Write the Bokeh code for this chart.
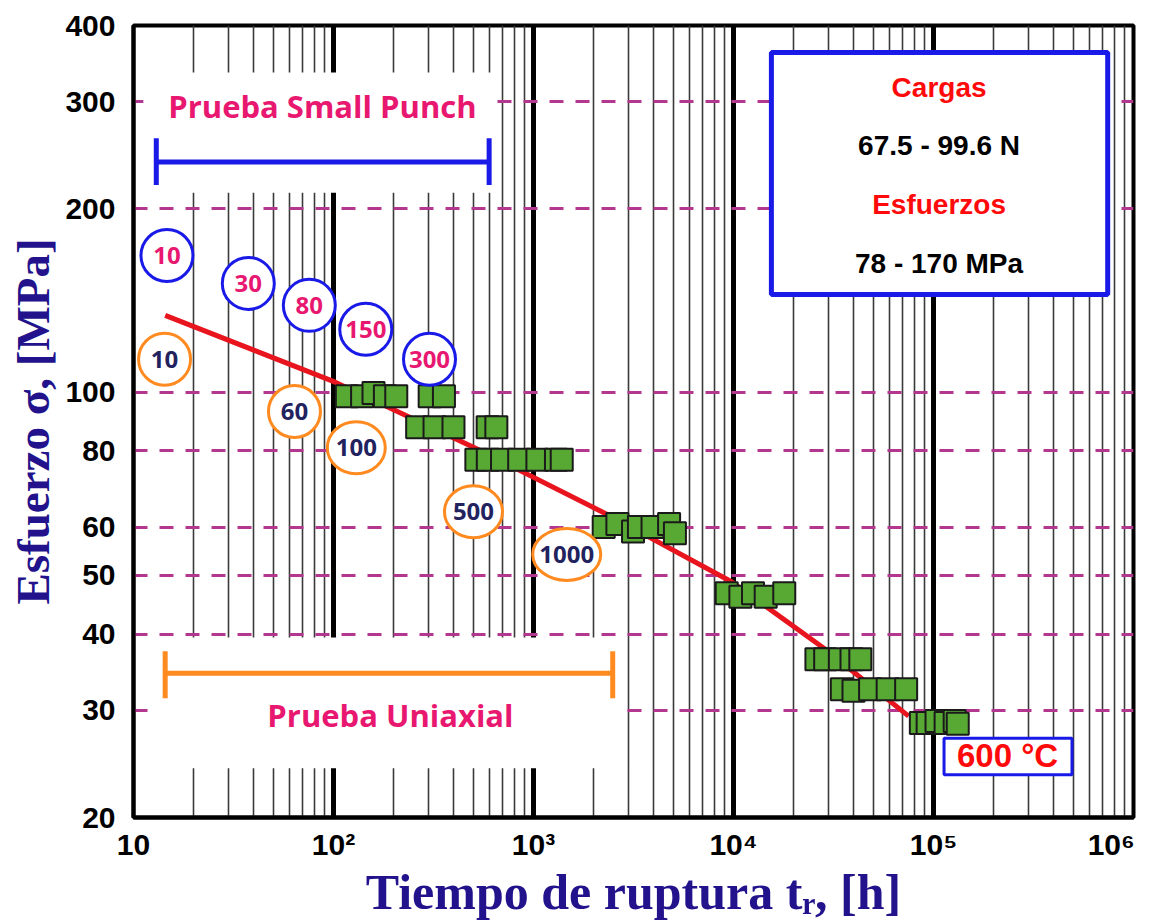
from bokeh.plotting import figure
from bokeh.models import FixedTicker, Title
from bokeh.core.properties import value
from bokeh.embed import file_html
from bokeh.resources import INLINE

# ---------------- data ----------------
# uniaxial creep tests (green squares): rupture time [h], stress [MPa]
sq_t = [116.6, 139, 158.5, 180.7, 206, 302.6, 356.6,
        262, 320, 398, 590, 652,
        518, 591, 696, 848, 1046, 1295, 1384,
        2244, 2627, 3145, 3366, 3937, 4764, 5095,
        9247, 10824, 12519, 14488, 17940,
        25977, 28733, 34015, 38905, 43066,
        34794, 39811, 48190, 59000, 72985,
        86440, 93474, 103550, 114970, 127600, 132200]
sq_s = [98.4, 98.4, 99.6, 98.4, 98.4, 98.4, 98.4,
        87.5, 87.5, 87.5, 87.5, 87.5,
        77.4, 77.4, 77.4, 77.4, 77.4, 77.4, 77.4,
        60.0, 60.7, 59.0, 60.0, 60.0, 60.7, 58.6,
        46.7, 46.1, 46.7, 46.1, 46.7,
        36.4, 36.4, 36.4, 36.4, 36.4,
        32.5, 32.3, 32.5, 32.5, 32.5,
        28.6, 28.6, 28.8, 28.6, 28.8, 28.5]

# fitted master curve (red)
fit_t = [14.4, 102, 507, 2323, 9770, 28430, 75100]
fit_s = [133.6, 103.8, 81, 63, 48.8, 37.9, 29.35]

# Small Punch test durations (blue circles)
sp_labels = ["10", "30", "80", "150", "300"]
sp_t = [14.7, 37.5, 75.7, 145, 302]
sp_s = [167.6, 150.8, 138.8, 126.8, 113.2]

# uniaxial test durations (orange circles)
ua_labels = ["10", "60", "100", "500", "1000"]
ua_t = [14.3, 63.8, 130, 501, 1466]
ua_s = [113.2, 92.9, 81, 63.6, 54.1]

# ranges covered by the two test types
sp_range_t = [13.0, 600]
sp_range_s = 238.7
sp_cap_s = [218.8, 261]
ua_range_t = [14.4, 2489]
ua_range_s = 34.5
ua_cap_s = [31.4, 37.5]

x_ticks = [10, 100, 1000, 10000, 100000, 1000000]
x_tick_labels = ["10", "10²", "10³", "10⁴", "10⁵", "10⁶"]
y_ticks = [20, 30, 40, 50, 60, 80, 100, 200, 300, 400]
y_grid_values = [30, 40, 50, 60, 80, 100, 200, 300]
heavy_x = [100, 1000, 10000, 100000]
minor_x = [m * 10 ** e for e in range(1, 6) for m in range(2, 10)]

box_lines = ["Cargas", "67.5 - 99.6 N", "Esfuerzos", "78 - 170 MPa"]
box_colors = ["#ff0a0a", "#000000", "#ff0a0a", "#000000"]

# ---------------- colours ----------------
BLUE = "#1a1ae8"
ORANGE = "#ff8a1f"
PINK = "#e8176f"
NAVY = "#22225e"
TITLE = "#22128c"

p = figure(width=1151, height=922, x_axis_type="log", y_axis_type="log",
           x_range=(10, 1e6), y_range=(20, 400),
           output_backend="svg", toolbar_location=None,
           min_border_left=125, min_border_right=18,
           min_border_top=25, min_border_bottom=102,
           background_fill_color="white", border_fill_color="white")

# axes
for ax in (p.xaxis[0], p.yaxis[0]):
    ax.axis_line_width = 4
    ax.axis_line_color = "black"
    ax.major_tick_line_color = None
    ax.minor_tick_line_color = None
    ax.major_label_text_font = "Liberation Sans"
    ax.major_label_text_font_style = "bold"
    ax.major_label_text_font_size = "30px"
    ax.major_label_text_color = "black"

p.xaxis.ticker = FixedTicker(ticks=x_ticks)
ov = {t: l for t, l in zip(x_ticks, x_tick_labels)}
ov[x_ticks[-1]] = x_tick_labels[-1] + "\u2007"
p.xaxis.major_label_overrides = ov
p.xaxis.major_label_standoff = 4

p.yaxis.ticker = FixedTicker(ticks=y_ticks)
p.yaxis.major_label_overrides = {v: str(v) for v in y_ticks}
p.yaxis.major_label_standoff = 12

p.xaxis.axis_label = "Tiempo de ruptura tᵣ, [h]"
p.xaxis.axis_label_text_font = "Liberation Serif"
p.xaxis.axis_label_text_font_style = "bold"
p.xaxis.axis_label_text_font_size = "50px"
p.xaxis.axis_label_text_color = TITLE
p.xaxis.axis_label_standoff = 0

p.add_layout(Title(text="Esfuerzo σ, [MPa]", align="center", standoff=8,
                   text_font="Liberation Serif", text_font_style="bold",
                   text_font_size="47px", text_color=TITLE), "left")

p.outline_line_color = "black"
p.outline_line_width = 4

# grid
p.xgrid.ticker = FixedTicker(ticks=heavy_x, minor_ticks=minor_x)
p.xgrid.grid_line_color = "black"
p.xgrid.grid_line_width = 5
p.xgrid.minor_grid_line_color = "#3a3a3a"
p.xgrid.minor_grid_line_width = 1.6
p.ygrid.ticker = FixedTicker(ticks=y_grid_values)
p.ygrid.grid_line_color = "#b4378f"
p.ygrid.grid_line_width = 3
p.ygrid.grid_line_dash = "14 12"

# white panels that hide the grid behind the annotations
p.quad(left=[11.2, 13.3], right=[646, 2851], bottom=[212.4, 24.1], top=[335, 39.5],
       fill_color="white", line_color=None)

# info box
p.quad(left=15470, right=743000, bottom=144.6, top=361.3,
       fill_color="white", line_color=BLUE, line_width=5)
p.text(x=[106600] * 4, y=[316.6, 253.6, 203, 162.5], text=box_lines,
       text_color=box_colors, text_align="center", text_baseline="middle",
       text_font=value("Liberation Sans"), text_font_style="bold", text_font_size="28px")

# temperature box
p.quad(left=112900, right=492600, bottom=23.5, top=27.0,
       fill_color="white", line_color=BLUE, line_width=3)
p.text(x=[234600], y=[25.3], text=["600 °C"], text_color="#ff0a0a",
       text_align="center", text_baseline="middle",
       text_font=value("Liberation Sans"), text_font_style="bold", text_font_size="33px")

# fitted curve and data
p.line(fit_t, fit_s, line_color="#e8141e", line_width=5)
p.scatter(sq_t, sq_s, marker="square", size=22, fill_color="#58a934",
          line_color="#1a1a1a", line_width=2)

# range bars
p.segment(x0=[sp_range_t[0]], y0=[sp_range_s], x1=[sp_range_t[1]], y1=[sp_range_s],
          line_color=BLUE, line_width=5)
p.segment(x0=sp_range_t, y0=[sp_cap_s[0]] * 2, x1=sp_range_t, y1=[sp_cap_s[1]] * 2,
          line_color=BLUE, line_width=5)
p.segment(x0=[ua_range_t[0]], y0=[ua_range_s], x1=[ua_range_t[1]], y1=[ua_range_s],
          line_color=ORANGE, line_width=5)
p.segment(x0=ua_range_t, y0=[ua_cap_s[0]] * 2, x1=ua_range_t, y1=[ua_cap_s[1]] * 2,
          line_color=ORANGE, line_width=5)

p.text(x=[88], y=[295], text=["Prueba Small Punch"], text_color=PINK,
       text_align="center", text_baseline="middle",
       text_font=value("Open Sans"), text_font_style="bold", text_font_size="31px")
p.text(x=[192.6], y=[29.5], text=["Prueba Uniaxial"], text_color=PINK,
       text_align="center", text_baseline="middle",
       text_font=value("Open Sans"), text_font_style="bold", text_font_size="31px")

# circles with test durations
p.ellipse(x=sp_t, y=sp_s, width=52, height=52, width_units="screen", height_units="screen",
          fill_color="white", line_color=BLUE, line_width=3)
p.text(x=sp_t, y=sp_s, text=sp_labels, text_color=PINK, text_align="center",
       text_baseline="middle", text_font=value("Open Sans"), text_font_style="bold",
       text_font_size="24px")
ua_w = [{2: 52, 3: 58, 4: 68}[len(s)] for s in ua_labels]
p.ellipse(x=ua_t, y=ua_s, width=ua_w, height=52, width_units="screen", height_units="screen",
          fill_color="white", line_color=ORANGE, line_width=3)
p.text(x=ua_t, y=ua_s, text=ua_labels, text_color=NAVY, text_align="center",
       text_baseline="middle", text_font=value("Open Sans"), text_font_style="bold",
       text_font_size="24px")

open("out.html", "w").write(file_html(p, INLINE))
